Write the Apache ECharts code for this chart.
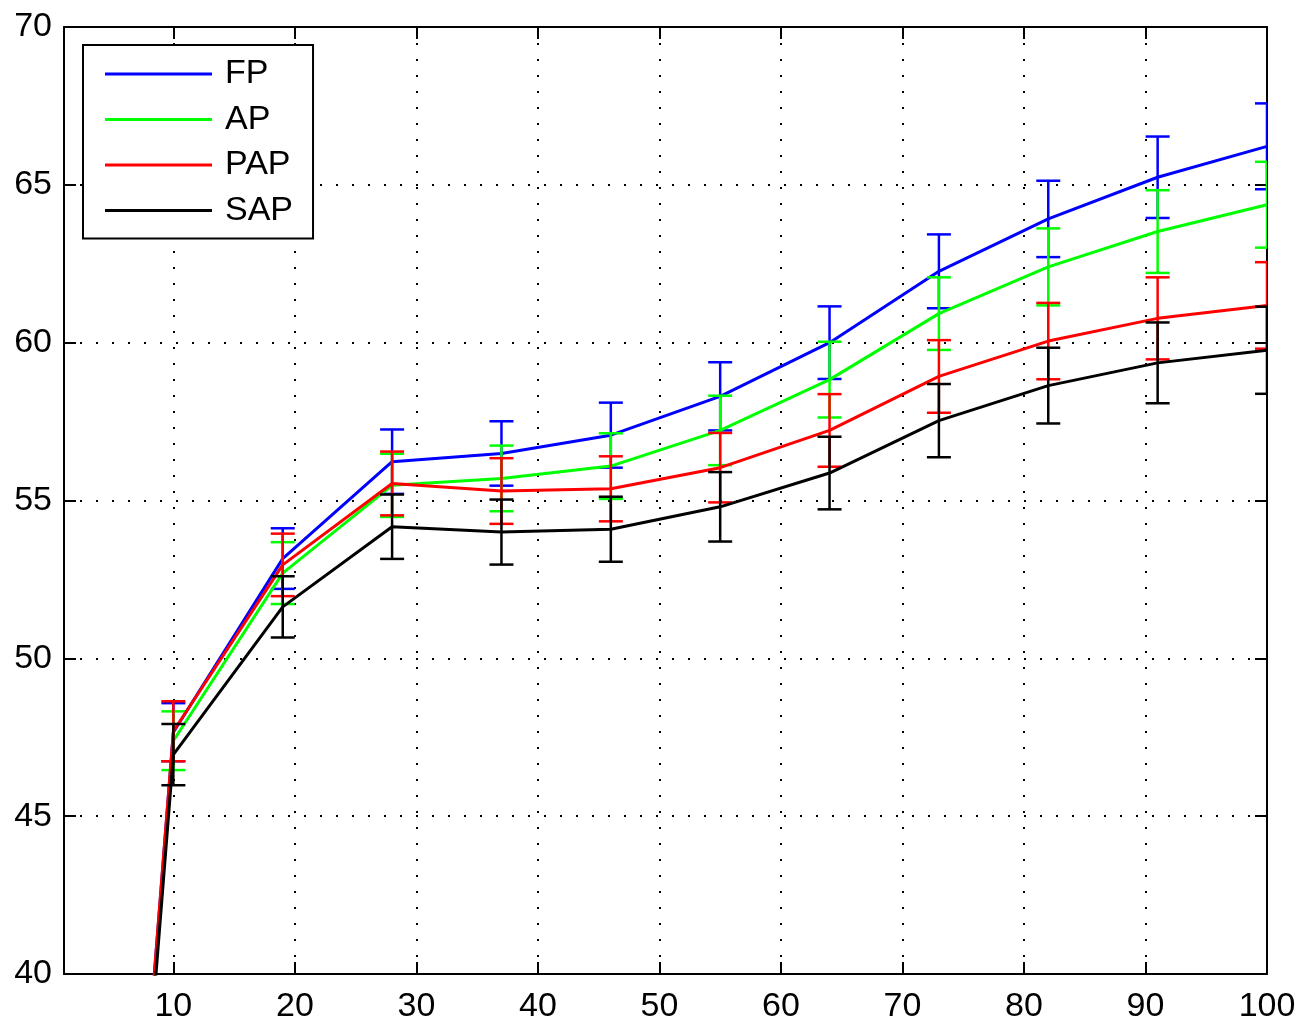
<!DOCTYPE html>
<html>
<head>
<meta charset="utf-8">
<script src="https://cdn.jsdelivr.net/npm/echarts@6/dist/echarts.min.js"></script>
<style>
  html, body { margin: 0; padding: 0; background: #fff; }
  #chart { width: 1302px; height: 1024px; }
</style>
</head>
<body>
<div id="chart"></div>
<script>
// x positions of the samples
const xs = [1, 10, 19, 28, 37, 46, 55, 64, 73, 82, 91, 100]
const xTicks = [10, 20, 30, 40, 50, 60, 70, 80, 90, 100]

// means and error half-widths
const fpMean = [3.5, 47.66, 53.16, 56.23, 56.49, 57.07, 58.30, 60.00, 62.26, 63.92, 65.24, 66.22]
const fpErr = [1.0, 0.92, 0.96, 1.02, 1.02, 1.03, 1.08, 1.15, 1.17, 1.21, 1.29, 1.36]
const apMean = [3.4, 47.39, 52.70, 55.48, 55.70, 56.09, 57.22, 58.83, 60.92, 62.40, 63.52, 64.37]
const apErr = [1.0, 0.93, 0.98, 1.00, 1.04, 1.04, 1.10, 1.20, 1.15, 1.22, 1.31, 1.36]
const papMean = [3.6, 47.69, 52.96, 55.54, 55.30, 55.37, 56.04, 57.22, 58.93, 60.05, 60.77, 61.18]
const papErr = [1.0, 0.95, 0.99, 1.01, 1.04, 1.03, 1.10, 1.15, 1.15, 1.21, 1.30, 1.37]
const sapMean = [3.2, 46.95, 51.63, 54.17, 54.00, 54.09, 54.80, 55.87, 57.53, 58.64, 59.36, 59.76]
const sapErr = [1.0, 0.97, 0.97, 1.02, 1.03, 1.03, 1.10, 1.15, 1.16, 1.20, 1.28, 1.38]

const names = ['FP', 'AP', 'PAP', 'SAP']
const colors = ['#0000ff', '#00ff00', '#ff0000', '#000000']
const means = [fpMean, apMean, papMean, sapMean]
const errs = [fpErr, apErr, papErr, sapErr]

const font = '"Liberation Sans", Arial, Helvetica, sans-serif'

// 误差棒
const errorBar = (color) => (params, api) => {
  const x = api.value(0)
  const lo = api.coord([x, api.value(1)])
  const hi = api.coord([x, api.value(2)])
  const w = 12
  const style = { stroke: color, lineWidth: 2.5 }
  return {
    type: 'group',
    children: [
      { type: 'line', shape: { x1: lo[0], y1: lo[1], x2: hi[0], y2: hi[1] }, style },
      { type: 'line', shape: { x1: lo[0] - w, y1: lo[1], x2: lo[0] + w, y2: lo[1] }, style },
      { type: 'line', shape: { x1: hi[0] - w, y1: hi[1], x2: hi[0] + w, y2: hi[1] }, style }
    ]
  }
}

const series = []
names.forEach((name, i) => {
  series.push({
    name: name,
    type: 'line',
    data: xs.map((x, j) => [x, means[i][j]]),
    symbol: 'none',
    color: colors[i],
    lineStyle: { width: 3, color: colors[i] },
    z: 10 + i * 2,
    clip: true,
    animation: false
  })
  series.push({
    name: name + ' err',
    type: 'custom',
    data: xs.map((x, j) => [x, means[i][j] - errs[i][j], means[i][j] + errs[i][j]]),
    encode: { x: 0, y: [1, 2] },
    renderItem: errorBar(colors[i]),
    z: 11 + i * 2,
    clip: true,
    animation: false
  })
})

const axisLine = { show: true, onZero: false, lineStyle: { color: '#000', width: 2 } }
const tick = { show: true, inside: true, length: 12, lineStyle: { color: '#000', width: 2 } }
const grid = { show: true, lineStyle: { color: '#000', width: 2, type: [2, 14] } }

const chart = echarts.init(document.getElementById('chart'))
chart.setOption({
  backgroundColor: '#fff',
  animation: false,
  grid: { left: 64, right: 35, top: 27, bottom: 49 },
  legend: {
    data: names,
    orient: 'vertical',
    left: 83,
    top: 45,
    icon: 'rect',
    itemWidth: 107,
    itemHeight: 3,
    itemGap: 11.5,
    padding: [12, 20, 11, 22],
    borderColor: '#000',
    borderWidth: 2,
    backgroundColor: '#fff',
    textStyle: { fontFamily: font, fontSize: 34, color: '#000', lineHeight: 31, padding: [0, 0, 0, 8] }
  },
  xAxis: [
    {
      type: 'value', min: 1, max: 100,
      axisLine, axisTick: { ...tick, customValues: xTicks },
      axisLabel: { customValues: xTicks, color: '#000', fontFamily: font, fontSize: 34, margin: 16 },
      splitLine: grid
    },
    {
      type: 'value', min: 1, max: 100, position: 'top',
      axisLine, axisTick: { ...tick, customValues: xTicks },
      axisLabel: { show: false }, splitLine: { show: false }
    }
  ],
  yAxis: [
    {
      type: 'value', min: 40, max: 70, interval: 5,
      axisLine, axisTick: tick,
      axisLabel: { color: '#000', fontFamily: font, fontSize: 34, margin: 12 },
      splitLine: grid
    },
    {
      type: 'value', min: 40, max: 70, interval: 5, position: 'right',
      axisLine, axisTick: tick,
      axisLabel: { show: false }, splitLine: { show: false }
    }
  ],
  series: series
})
</script>
</body>
</html>
